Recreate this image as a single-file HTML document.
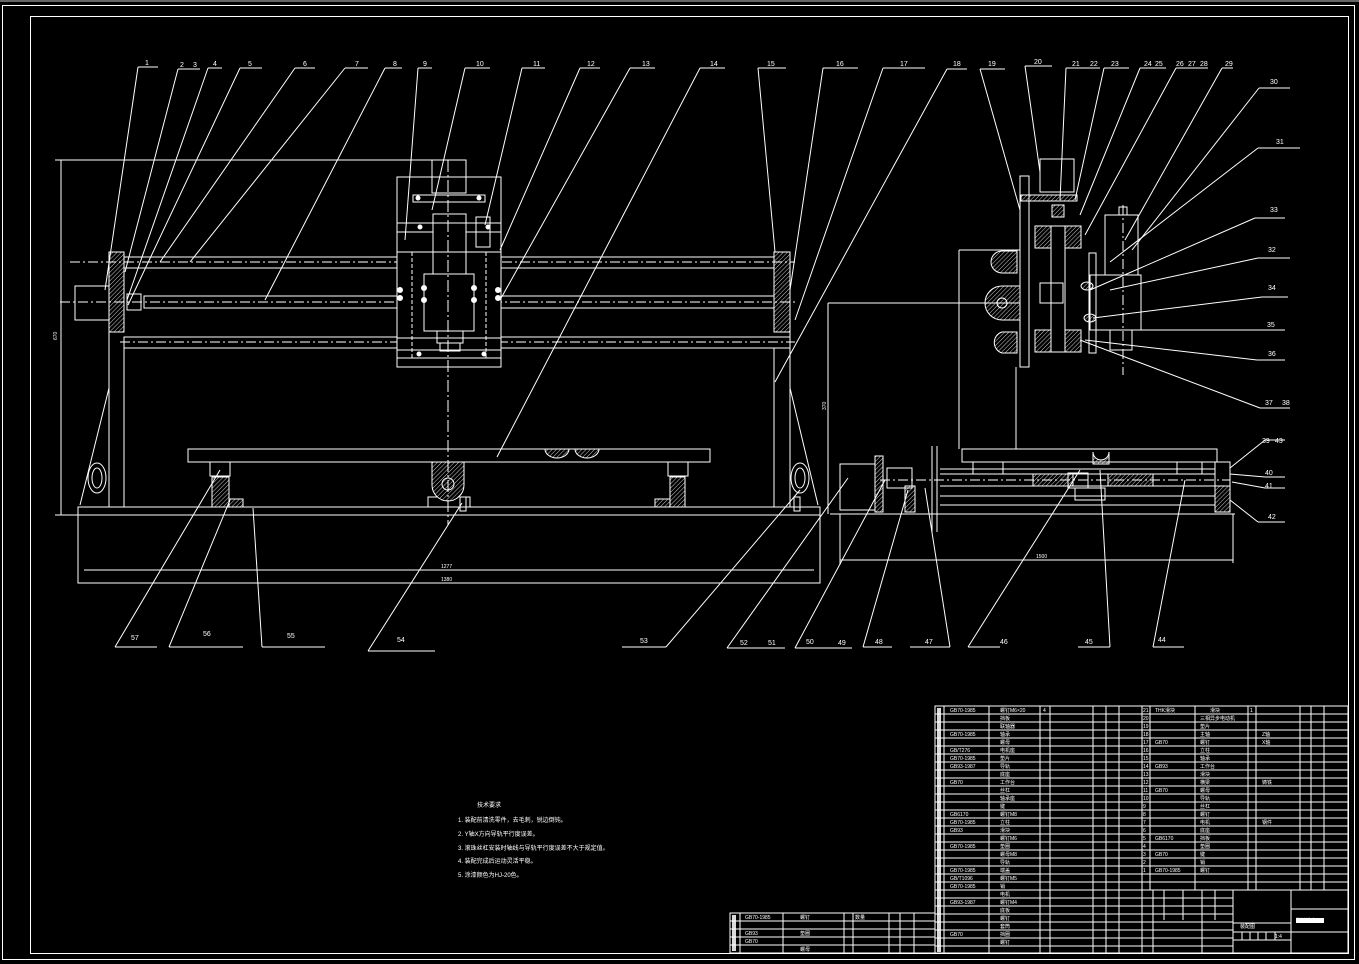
<!DOCTYPE html>
<html><head><meta charset="utf-8"><style>
html,body{margin:0;padding:0;background:#000;}
svg{display:block}
text{font-family:"Liberation Sans","Noto Sans CJK SC",sans-serif;fill:#fff;}
</style></head><body>
<svg width="1359" height="964" viewBox="0 0 1359 964" xmlns="http://www.w3.org/2000/svg">
<defs>
<pattern id="h" width="3" height="3" patternUnits="userSpaceOnUse" patternTransform="rotate(45)">
<line x1="0" y1="0" x2="0" y2="3" stroke="#fff" stroke-width="0.8"/></pattern>
</defs>
<rect x="0" y="0" width="1359" height="964" fill="#000"/>
<rect x="0" y="0" width="1359" height="2" fill="#666"/>
<g fill="none" stroke="#fff" stroke-width="1">
<rect x="2.5" y="5.5" width="1352" height="954"/>
<rect x="30.5" y="16.5" width="1318" height="937"/>

<line x1="55" y1="160" x2="466" y2="160"/>
<line x1="61" y1="160" x2="61" y2="515"/>
<line x1="55" y1="515" x2="78" y2="515"/>
<rect x="75" y="286" width="34" height="34"/>
<rect x="109" y="252" width="15" height="80" fill="url(#h)"/>
<rect x="774" y="252" width="16" height="80" fill="url(#h)"/>
<rect x="124" y="257" width="650" height="11"/>
<rect x="144" y="296" width="630" height="12"/>
<rect x="124" y="337" width="666" height="11"/>
<line x1="70" y1="262" x2="795" y2="262" stroke-dasharray="10 3 2 3"/>
<line x1="60" y1="302" x2="795" y2="302" stroke-dasharray="10 3 2 3"/>
<line x1="120" y1="342" x2="795" y2="342" stroke-dasharray="10 3 2 3"/>
<rect x="127" y="294" width="14" height="16"/>
<rect x="397" y="177" width="104" height="190" fill="#000"/>
<rect x="432" y="160" width="34" height="33"/>
<rect x="413" y="195" width="72" height="7"/>
<rect x="433" y="214" width="33" height="60"/>
<rect x="424" y="274" width="50" height="57"/>
<rect x="437" y="331" width="26" height="12"/>
<rect x="440" y="343" width="20" height="8"/>
<line x1="397" y1="223" x2="501" y2="223"/>
<line x1="397" y1="232" x2="433" y2="232"/><line x1="466" y1="232" x2="501" y2="232"/>
<line x1="397" y1="252" x2="501" y2="252"/>
<line x1="397" y1="338" x2="501" y2="338"/>
<line x1="397" y1="350" x2="501" y2="350"/>
<line x1="397" y1="358" x2="501" y2="358"/>
<line x1="412" y1="252" x2="412" y2="358" stroke-dasharray="4 2"/>
<line x1="486" y1="252" x2="486" y2="358" stroke-dasharray="4 2"/>
<line x1="448" y1="160" x2="448" y2="525" stroke-dasharray="12 3 2 3"/>
<rect x="476" y="217" width="14" height="30"/>
<g fill="#fff"><circle cx="400" cy="290" r="2.5"/><circle cx="400" cy="298" r="2.5"/><circle cx="498" cy="290" r="2.5"/><circle cx="498" cy="298" r="2.5"/><circle cx="424" cy="288" r="2.5"/><circle cx="424" cy="300" r="2.5"/><circle cx="474" cy="288" r="2.5"/><circle cx="474" cy="300" r="2.5"/><circle cx="420" cy="227" r="2"/><circle cx="488" cy="227" r="2"/><circle cx="419" cy="354" r="2"/><circle cx="484" cy="354" r="2"/><circle cx="418" cy="198" r="2"/><circle cx="479" cy="198" r="2"/></g>
<line x1="109" y1="332" x2="109" y2="507"/><line x1="124" y1="348" x2="124" y2="507"/>
<line x1="774" y1="348" x2="774" y2="507"/><line x1="790" y1="332" x2="790" y2="507"/>
<path d="M109 388 L80 505 M790 388 L818 505"/>
<ellipse cx="97" cy="478" rx="9" ry="15"/><ellipse cx="800" cy="478" rx="9" ry="15"/>
<ellipse cx="97" cy="478" rx="5" ry="10"/><ellipse cx="800" cy="478" rx="5" ry="10"/>
<rect x="78" y="507" width="742" height="8"/>
<rect x="78" y="515" width="742" height="68"/>
<line x1="84" y1="570" x2="814" y2="570"/>
<rect x="188" y="449" width="522" height="13"/>
<path d="M545 449 a12 9 0 0 0 24 0" fill="url(#h)"/>
<path d="M575 449 a12 9 0 0 0 24 0" fill="url(#h)"/>
<rect x="212" y="477" width="17" height="30" fill="url(#h)"/>
<rect x="229" y="499" width="14" height="8" fill="url(#h)"/>
<rect x="670" y="477" width="15" height="30" fill="url(#h)"/>
<rect x="655" y="499" width="15" height="8" fill="url(#h)"/>
<rect x="210" y="462" width="20" height="14"/><rect x="668" y="462" width="20" height="14"/>
<path d="M432 462 L432 485 A16 16 0 0 0 464 485 L464 462 Z" fill="url(#h)"/>
<circle cx="448" cy="484" r="6"/>
<path d="M428 507 L428 497 L437 497 M460 497 L470 497 L470 507"/>
<rect x="460" y="497" width="6" height="14"/>
<rect x="794" y="497" width="6" height="14"/>

<rect x="1020" y="176" width="9" height="191"/>
<rect x="1040" y="159" width="34" height="33"/>
<rect x="1021" y="195" width="56" height="6" fill="url(#h)"/>
<rect x="1052" y="205" width="12" height="12" fill="url(#h)"/>
<rect x="1035" y="226" width="16" height="22" fill="url(#h)"/>
<rect x="1065" y="226" width="16" height="22" fill="url(#h)"/>
<rect x="1035" y="330" width="16" height="22" fill="url(#h)"/>
<rect x="1065" y="330" width="16" height="22" fill="url(#h)"/>
<rect x="1051" y="226" width="14" height="126"/>
<rect x="1040" y="283" width="23" height="20"/>
<line x1="959" y1="250" x2="1020" y2="250"/>
<line x1="959" y1="250" x2="959" y2="449"/>
<line x1="1016" y1="367" x2="1016" y2="449"/>
<line x1="828" y1="303" x2="1020" y2="303"/>
<line x1="828" y1="303" x2="828" y2="514"/>
<path d="M1017 251 L1002 251 A11 11 0 0 0 1002 273 L1017 273 Z" fill="url(#h)"/>
<path d="M1020 286 L1002 286 A17 17 0 0 0 1002 320 L1020 320 Z" fill="url(#h)"/>
<circle cx="1002" cy="303" r="5"/>
<path d="M1017 332 L1002 332 A11 11 0 0 0 1002 353 L1017 353 Z" fill="url(#h)"/>
<rect x="1089" y="253" width="7" height="100"/>
<rect x="1105" y="215" width="33" height="60"/>
<rect x="1090" y="275" width="51" height="55"/>
<rect x="1110" y="330" width="22" height="20"/>
<rect x="1119" y="207" width="8" height="8"/>
<line x1="1123" y1="205" x2="1123" y2="375" stroke-dasharray="10 3 2 3"/>
<ellipse cx="1087" cy="286" rx="6" ry="4" fill="url(#h)"/>
<ellipse cx="1090" cy="318" rx="6" ry="4" fill="url(#h)"/>
<rect x="962" y="449" width="255" height="13"/>
<rect x="973" y="462" width="30" height="12"/><rect x="1177" y="462" width="25" height="12"/>
<line x1="940" y1="469" x2="1215" y2="469"/>
<line x1="940" y1="474" x2="1215" y2="474"/>
<rect x="1033" y="474" width="40" height="12" fill="url(#h)"/>
<rect x="1108" y="474" width="45" height="12" fill="url(#h)"/>
<line x1="880" y1="480" x2="1230" y2="480" stroke-dasharray="10 3 2 3"/>
<line x1="940" y1="486" x2="1215" y2="486"/>
<line x1="940" y1="496" x2="1215" y2="496"/>
<line x1="940" y1="505" x2="1215" y2="505"/>
<rect x="1068" y="473" width="20" height="15"/>
<rect x="1075" y="488" width="30" height="12"/>
<path d="M1093 452 a8 8 0 0 0 16 0 v12 h-16 z" fill="url(#h)"/>
<rect x="840" y="464" width="35" height="46"/>
<rect x="875" y="456" width="8" height="56" fill="url(#h)"/>
<rect x="887" y="468" width="25" height="20"/>
<rect x="905" y="486" width="10" height="26" fill="url(#h)"/>
<line x1="932" y1="446" x2="932" y2="532"/><line x1="937" y1="446" x2="937" y2="532"/>
<rect x="1215" y="462" width="15" height="24"/>
<rect x="1215" y="486" width="15" height="26" fill="url(#h)"/>
<line x1="830" y1="514" x2="1235" y2="514"/>
<line x1="840" y1="514" x2="840" y2="565"/><line x1="1233" y1="514" x2="1233" y2="563"/>
<line x1="840" y1="560" x2="1233" y2="560"/>

<path d="M138 67 L158 67 M138 67 L105 290"/>
<path d="M178 69 L200 69 M178 69 L125 272"/>
<path d="M208 68 L222 68 M208 68 L127 300"/>
<path d="M240 68 L262 68 M240 68 L128 305"/>
<path d="M295 68 L315 68 M295 68 L160 262"/>
<path d="M345 68 L368 68 M345 68 L190 262"/>
<path d="M385 68 L402 68 M385 68 L265 300"/>
<path d="M418 68 L432 68 M418 68 L405 240"/>
<path d="M465 68 L490 68 M465 68 L432 210"/>
<path d="M522 68 L545 68 M522 68 L485 225"/>
<path d="M580 68 L600 68 M580 68 L500 250"/>
<path d="M630 68 L655 68 M630 68 L500 300"/>
<path d="M700 68 L725 68 M700 68 L497 457"/>
<path d="M758 68 L786 68 M758 68 L775 252"/>
<path d="M823 68 L858 68 M823 68 L790 290"/>
<path d="M883 68 L925 68 M883 68 L795 320"/>
<path d="M947 69 L967 69 M947 69 L775 382"/>
<path d="M980 69 L1005 69 M980 69 L1020 210"/>
<path d="M1025 66 L1052 66 M1025 66 L1040 172"/>
<path d="M1066 68 L1100 68 M1066 68 L1060 200"/>
<path d="M1104 68 L1129 68 M1104 68 L1075 200"/>
<path d="M1140 68 L1166 68 M1140 68 L1080 215"/>
<path d="M1176 68 L1208 68 M1176 68 L1085 235"/>
<path d="M1222 68 L1233 68 M1222 68 L1125 240"/>
<path d="M1259 88 L1290 88 M1259 88 L1132 250"/>
<path d="M1258 148 L1300 148 M1258 148 L1110 262"/>
<path d="M1255 218 L1285 218 M1255 218 L1090 290"/>
<path d="M1258 258 L1290 258 M1258 258 L1110 290"/>
<path d="M1262 297 L1288 297 M1262 297 L1093 318"/>
<path d="M1262 330 L1285 330 M1262 330 L1110 330"/>
<path d="M1257 360 L1285 360 M1257 360 L1085 340"/>
<path d="M1260 408 L1290 408 M1260 408 L1080 340"/>
<path d="M1265 440 L1285 440 M1265 440 L1230 468"/>
<path d="M1265 477 L1285 477 M1265 477 L1230 474"/>
<path d="M1265 488 L1285 488 M1265 488 L1232 482"/>
<path d="M1258 522 L1285 522 M1258 522 L1230 500"/>
<path d="M115 647 L157 647 M115 647 L220 470"/>
<path d="M169 647 L243 647 M169 647 L230 500"/>
<path d="M262 647 L325 647 M262 647 L253 508"/>
<path d="M368 651 L435 651 M368 651 L462 503"/>
<path d="M622 647 L666 647 M666 647 L800 490"/>
<path d="M727 648 L785 648 M727 648 L848 478"/>
<path d="M795 648 L852 648 M795 648 L885 480"/>
<path d="M863 647 L892 647 M863 647 L908 490"/>
<path d="M910 647 L950 647 M950 647 L925 488"/>
<path d="M968 647 L1000 647 M968 647 L1080 470"/>
<path d="M1078 647 L1110 647 M1110 647 L1100 470"/>
<path d="M1153 647 L1184 647 M1153 647 L1185 480"/>

<rect x="935" y="706" width="413" height="247"/>
<path d="M935 714 H1348 M935 722 H1348 M935 730 H1348 M935 738 H1348 M935 746 H1348 M935 754 H1348 M935 762 H1348 M935 770 H1348 M935 778 H1348 M935 786 H1348 M935 794 H1348 M935 802 H1348 M935 810 H1348 M935 818 H1348 M935 826 H1348 M935 834 H1348 M935 842 H1348 M935 850 H1348 M935 858 H1348 M935 866 H1348 M935 874 H1348 M935 882 H1348 M935 890 H1348 M935 898 H1142 M935 906 H1142 M935 914 H1142 M935 922 H1142 M935 930 H1142 M935 938 H1142 M935 946 H1142"/>
<path d="M944 706 V953 M989 706 V953 M1040 706 V953 M1050 706 V953 M1093 706 V953 M1106 706 V953 M1119 706 V953 M1142 706 V953"/>
<path d="M1150 706 V890 M1195 706 V890 M1248 706 V890 M1256 706 V890 M1300 706 V890 M1311 706 V890 M1324 706 V890"/>
<path d="M1153 890 V953 M1164 890 V920 M1183 890 V920 M1202 890 V953 M1215 890 V920 M1233 890 V953 M1291 890 V953"/>
<path d="M1142 898 H1233 M1142 906 H1233 M1142 914 H1233 M1142 922 H1233 M1142 930 H1233 M1142 938 H1233 M1142 946 H1233"/>
<path d="M1291 909 H1348 M1233 932 H1348 M1233 923 H1291 M1233 940 H1291"/>
<path d="M1242 932 V940 M1250 932 V940 M1258 932 V940 M1266 932 V940 M1275 932 V940"/>
<rect x="730" y="913" width="205" height="40"/>
<path d="M730 921 H935 M730 929 H935 M730 937 H935 M730 945 H935"/>
<path d="M740 913 V953 M783 913 V953 M844 913 V953 M853 913 V953 M889 913 V953 M900 913 V953 M914 913 V953"/>
</g>

<g fill="#fff">
<rect x="937" y="708" width="4" height="244" opacity="0.85"/>
<rect x="1296" y="918" width="28" height="5"/>
<rect x="732" y="915" width="4" height="36" opacity="0.85"/>
</g>

<g font-size="7">
<text x="145" y="65">1</text><text x="180" y="67">2</text><text x="193" y="67">3</text><text x="213" y="66">4</text><text x="248" y="66">5</text>
<text x="303" y="66">6</text><text x="355" y="66">7</text><text x="393" y="66">8</text><text x="423" y="66">9</text><text x="476" y="66">10</text>
<text x="533" y="66">11</text><text x="587" y="66">12</text><text x="642" y="66">13</text><text x="710" y="66">14</text>
<text x="767" y="66">15</text><text x="836" y="66">16</text><text x="900" y="66">17</text><text x="953" y="66">18</text><text x="988" y="66">19</text>
<text x="1034" y="64">20</text><text x="1072" y="66">21</text><text x="1090" y="66">22</text><text x="1111" y="66">23</text><text x="1144" y="66">24</text><text x="1155" y="66">25</text>
<text x="1176" y="66">26</text><text x="1188" y="66">27</text><text x="1200" y="66">28</text><text x="1225" y="66">29</text>
<text x="1270" y="84">30</text><text x="1276" y="144">31</text><text x="1270" y="212">33</text><text x="1268" y="252">32</text><text x="1268" y="290">34</text>
<text x="1267" y="327">35</text><text x="1268" y="356">36</text><text x="1265" y="405">37</text><text x="1282" y="405">38</text>
<text x="1262" y="443">39</text><text x="1275" y="443">43</text><text x="1265" y="475">40</text><text x="1265" y="488">41</text><text x="1268" y="519">42</text>
<text x="131" y="640">57</text><text x="203" y="636">56</text><text x="287" y="638">55</text><text x="397" y="642">54</text>
<text x="640" y="643">53</text><text x="740" y="645">52</text><text x="768" y="645">51</text><text x="806" y="644">50</text><text x="838" y="645">49</text>
<text x="875" y="644">48</text><text x="925" y="644">47</text><text x="1000" y="644">46</text><text x="1085" y="644">45</text><text x="1158" y="642">44</text>
</g>
<g font-size="5">
<text x="441" y="568">1277</text><text x="441" y="581">1380</text><text x="1036" y="558">1500</text>
<text x="57" y="340" transform="rotate(-90 57 340)">670</text>
<text x="826" y="410" transform="rotate(-90 826 410)">370</text>
</g>
<g font-size="6">
<text x="477" y="807">技术要求</text>
<text x="458" y="822">1. 装配前清洗零件，去毛刺，锐边倒钝。</text>
<text x="458" y="836">2. Y轴X方向导轨平行度误差。</text>
<text x="458" y="850">3. 滚珠丝杠安装时轴线与导轨平行度误差不大于规定值。</text>
<text x="458" y="863">4. 装配完成后运动灵活平稳。</text>
<text x="458" y="877">5. 涂漆颜色为HJ-20色。</text>
</g>
<g font-size="5">
<text x="950" y="712">GB70-1985</text><text x="1000" y="712">螺钉M6×20</text><text x="1043" y="712">4</text>
<text x="950" y="736">GB70-1985</text><text x="950" y="752">GB/T276</text><text x="950" y="760">GB70-1985</text><text x="950" y="768">GB93-1987</text>
<text x="950" y="784">GB70</text><text x="950" y="816">GB6170</text><text x="950" y="824">GB70-1985</text><text x="950" y="832">GB93</text><text x="950" y="848">GB70-1985</text>
<text x="950" y="872">GB70-1985</text><text x="950" y="880">GB/T1096</text><text x="950" y="888">GB70-1985</text><text x="950" y="904">GB93-1987</text><text x="950" y="936">GB70</text>
<text x="1000" y="720">挡板</text><text x="1000" y="728">联轴器</text><text x="1000" y="736">轴承</text><text x="1000" y="744">螺母</text><text x="1000" y="752">电机座</text>
<text x="1000" y="760">垫片</text><text x="1000" y="768">导轨</text><text x="1000" y="776">底座</text><text x="1000" y="784">工作台</text><text x="1000" y="792">丝杠</text>
<text x="1000" y="800">轴承座</text><text x="1000" y="808">键</text><text x="1000" y="816">螺钉M8</text><text x="1000" y="824">立柱</text><text x="1000" y="832">滑块</text><text x="1000" y="840">螺钉M6</text>
<text x="1000" y="848">垫圈</text><text x="1000" y="856">螺母M8</text><text x="1000" y="864">导轨</text><text x="1000" y="872">端盖</text><text x="1000" y="880">螺钉M5</text><text x="1000" y="888">销</text>
<text x="1000" y="896">电机</text><text x="1000" y="904">螺钉M4</text><text x="1000" y="912">底板</text><text x="1000" y="920">螺钉</text><text x="1000" y="928">套筒</text><text x="1000" y="936">挡圈</text><text x="1000" y="944">螺钉</text>
<text x="1143" y="712">21</text><text x="1155" y="712">THK滑块</text><text x="1210" y="712">滑块</text><text x="1250" y="712">1</text>
<text x="1143" y="720">20</text><text x="1143" y="728">19</text><text x="1143" y="736">18</text><text x="1143" y="744">17</text><text x="1143" y="752">16</text><text x="1143" y="760">15</text>
<text x="1143" y="768">14</text><text x="1143" y="776">13</text><text x="1143" y="784">12</text><text x="1143" y="792">11</text><text x="1143" y="800">10</text><text x="1143" y="808">9</text>
<text x="1143" y="816">8</text><text x="1143" y="824">7</text><text x="1143" y="832">6</text><text x="1143" y="840">5</text><text x="1143" y="848">4</text><text x="1143" y="856">3</text><text x="1143" y="864">2</text><text x="1143" y="872">1</text>
<text x="1155" y="744">GB70</text><text x="1155" y="768">GB93</text><text x="1155" y="792">GB70</text><text x="1155" y="840">GB6170</text><text x="1155" y="856">GB70</text><text x="1155" y="872">GB70-1985</text>
<text x="1200" y="720">三相异步电动机</text><text x="1200" y="728">垫片</text><text x="1200" y="736">主轴</text><text x="1200" y="744">螺钉</text><text x="1200" y="752">立柱</text><text x="1200" y="760">轴承</text>
<text x="1200" y="768">工作台</text><text x="1200" y="776">滑块</text><text x="1200" y="784">横梁</text><text x="1200" y="792">螺母</text><text x="1200" y="800">导轨</text><text x="1200" y="808">丝杠</text>
<text x="1200" y="816">螺钉</text><text x="1200" y="824">电机</text><text x="1200" y="832">底座</text><text x="1200" y="840">挡板</text><text x="1200" y="848">垫圈</text><text x="1200" y="856">键</text><text x="1200" y="864">销</text><text x="1200" y="872">螺钉</text>
<text x="1262" y="736">Z轴</text><text x="1262" y="744">X轴</text><text x="1262" y="784">铸铁</text><text x="1262" y="824">钢件</text>
<text x="1296" y="922" fill="#000">数控铣床</text>
<text x="1240" y="928">装配图</text><text x="1275" y="938">1:4</text>
<text x="745" y="919">GB70-1985</text><text x="800" y="919">螺钉</text><text x="855" y="919">数量</text>
<text x="745" y="935">GB93</text><text x="800" y="935">垫圈</text><text x="745" y="943">GB70</text><text x="800" y="951">螺母</text>
</g>
</svg>
</body></html>
